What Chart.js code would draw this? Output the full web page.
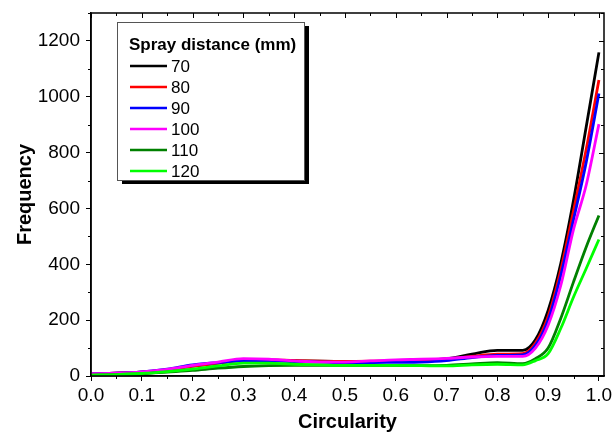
<!DOCTYPE html>
<html>
<head>
<meta charset="utf-8">
<script src="https://cdn.jsdelivr.net/npm/chart.js@4.4.0/dist/chart.umd.min.js"></script>
<style>
  html, body { margin: 0; padding: 0; background: #fff; }
  #wrap { width: 612px; height: 436px; }
</style>
</head>
<body>
<div id="wrap"><canvas id="chart" width="612" height="436"></canvas></div>
<script>
// values
const circularity = [0, 0.05, 0.1, 0.15, 0.2, 0.25, 0.3, 0.35, 0.4, 0.45, 0.5, 0.55, 0.6, 0.65, 0.7, 0.75, 0.8, 0.85, 0.875, 0.9, 0.925, 0.95, 0.975, 1.0];
const d70  = [8, 10, 14, 22, 35, 46, 56, 57, 55, 53, 52, 52, 53, 55, 62, 78, 92, 92, 130, 235, 404, 629, 893, 1159];
const d80  = [8, 10, 14, 22, 35, 46, 57, 58, 55, 53, 52, 53, 55, 57, 60, 70, 78, 80, 118, 213, 380, 592, 812, 1060];
const d90  = [8, 10, 15, 25, 40, 48, 54, 54, 52, 50, 48, 48, 49, 50, 55, 66, 74, 76, 110, 200, 360, 560, 766, 1012];
const d100 = [8, 10, 15, 24, 38, 50, 62, 60, 54, 50, 50, 54, 58, 60, 63, 68, 70, 70, 100, 182, 325, 525, 684, 902];
const d110 = [3, 5, 8, 14, 20, 28, 34, 37, 38, 38, 38, 38, 38, 37, 38, 43, 48, 44, 62, 100, 207, 337, 462, 575];
const d120 = [3, 5, 9, 16, 25, 36, 46, 46, 42, 40, 38, 38, 38, 37, 36, 40, 42, 40, 55, 80, 171, 283, 385, 489];

const distances = ['70', '80', '90', '100', '110', '120'];
const series = [d70, d80, d90, d100, d110, d120];
const colors = ['#000000', '#ff0000', '#0000ff', '#ff00ff', '#008000', '#00ff00'];

const xTicks = [0, 0.1, 0.2, 0.3, 0.4, 0.5, 0.6, 0.7, 0.8, 0.9, 1.0];
const yTicks = [0, 200, 400, 600, 800, 1000, 1200];

const FONT = '"Liberation Sans", Arial, sans-serif';

// frame, minor ticks and inner ticks on top/right
const framePlugin = {
    id: 'frame',
    afterDraw(chart) {
        const ctx = chart.ctx;
        const a = chart.chartArea;
        const xs = chart.scales.x, ys = chart.scales.y;
        ctx.save();
        ctx.strokeStyle = '#000';
        ctx.lineWidth = 1.5;
        ctx.strokeRect(a.left, a.top, a.right - a.left, a.bottom - a.top);
        ctx.lineWidth = 1;
        ctx.beginPath();
        for (let i = 0; i <= 20; i++) {
            const v = i * 0.05;
            const px = Math.round(xs.getPixelForValue(v)) + 0.5;
            const major = i % 2 === 0;
            const len = major ? 5 : 3;
            if (!major) {
                ctx.moveTo(px, a.bottom);
                ctx.lineTo(px, a.bottom + len);
            }
            ctx.moveTo(px, a.top);
            ctx.lineTo(px, a.top + len);
        }
        for (let v = 0; v <= 1300; v += 100) {
            const py = Math.round(ys.getPixelForValue(v)) + 0.5;
            const major = v % 200 === 0;
            const len = major ? 5 : 3;
            if (!major) {
                ctx.moveTo(a.left, py);
                ctx.lineTo(a.left - len, py);
            }
            ctx.moveTo(a.right, py);
            ctx.lineTo(a.right - len, py);
        }
        ctx.stroke();
        ctx.restore();
    }
};

// boxed legend with a drop shadow
const legendPlugin = {
    id: 'boxLegend',
    afterDraw(chart) {
        const ctx = chart.ctx;
        const bx = 117, by = 22, bw = 187, bh = 158;
        ctx.save();
        ctx.fillStyle = '#000';
        ctx.fillRect(bx + 5, by + 4, bw, bh);
        ctx.fillStyle = '#fff';
        ctx.fillRect(bx, by, bw, bh);
        ctx.strokeStyle = '#555';
        ctx.lineWidth = 1;
        ctx.strokeRect(bx + 0.5, by + 0.5, bw, bh);

        ctx.fillStyle = '#000';
        ctx.textBaseline = 'middle';
        ctx.textAlign = 'left';
        ctx.font = 'bold 17px ' + FONT;
        ctx.fillText('Spray distance (mm)', 129, 45);
        ctx.font = '17px ' + FONT;
        chart.data.datasets.forEach((ds, i) => {
            const y = 66 + i * 21;
            ctx.strokeStyle = ds.borderColor;
            ctx.lineWidth = 2.5;
            ctx.beginPath();
            ctx.moveTo(130, y);
            ctx.lineTo(167, y);
            ctx.stroke();
            ctx.fillStyle = '#000';
            ctx.fillText(ds.label, 171, y + 1);
        });
        ctx.restore();
    }
};

new Chart(document.getElementById('chart'), {
    type: 'line',
    data: {
        datasets: series.map((vals, i) => ({
            label: distances[i],
            data: circularity.map((c, j) => ({ x: c, y: vals[j] })),
            borderColor: colors[i],
            borderWidth: 2.8,
            pointRadius: 0,
            cubicInterpolationMode: 'monotone',
            fill: false,
            order: series.length - i
        }))
    },
    options: {
        responsive: false,
        animation: false,
        events: [],
        layout: { padding: { top: 13, right: 8, left: 0, bottom: 0 } },
        plugins: {
            legend: { display: false },
            tooltip: { enabled: false }
        },
        scales: {
            x: {
                type: 'linear',
                min: 0,
                max: 1.01,
                afterFit(scale) {
                    scale.height = 60;
                    scale.paddingLeft = 0;
                    scale.paddingRight = 0;
                },
                afterBuildTicks(scale) { scale.ticks = xTicks.map(v => ({ value: v })); },
                ticks: {
                    callback: v => v.toFixed(1),
                    color: '#000',
                    font: { family: FONT, size: 19 },
                    padding: 3,
                    maxRotation: 0,
                    autoSkip: false
                },
                grid: { display: true, drawOnChartArea: false, tickLength: 5, color: '#000' },
                border: { display: true, color: '#000', width: 1.5 },
                title: {
                    display: true,
                    text: 'Circularity',
                    color: '#000',
                    font: { family: FONT, size: 20, weight: 'bold' },
                    padding: { top: 4, bottom: 2 }
                }
            },
            y: {
                type: 'linear',
                min: 0,
                max: 1300,
                afterFit(scale) {
                    scale.width = 91;
                    scale.paddingTop = 0;
                    scale.paddingBottom = 0;
                },
                afterBuildTicks(scale) { scale.ticks = yTicks.map(v => ({ value: v })); },
                ticks: {
                    callback: v => String(v),
                    color: '#000',
                    font: { family: FONT, size: 19 },
                    padding: 6,
                    autoSkip: false
                },
                grid: { display: true, drawOnChartArea: false, tickLength: 5, color: '#000' },
                border: { display: true, color: '#000', width: 1.5 },
                title: {
                    display: true,
                    text: 'Frequency',
                    color: '#000',
                    font: { family: FONT, size: 20, weight: 'bold' },
                    padding: { top: 13, bottom: 4 }
                }
            }
        }
    },
    plugins: [framePlugin, legendPlugin]
});
</script>
</body>
</html>
